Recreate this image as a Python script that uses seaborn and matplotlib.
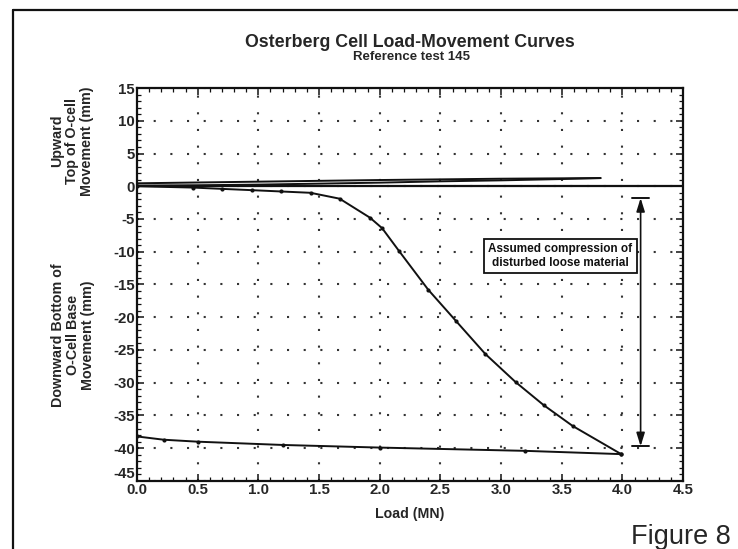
import matplotlib
matplotlib.use("Agg")
import matplotlib.pyplot as plt
import seaborn as sns
import pandas as pd
import numpy as np
from matplotlib.lines import Line2D
from matplotlib.ticker import MultipleLocator

# ---- data ----
up_load_x = [0.0, 0.5, 1.0, 1.5, 2.0, 2.5, 3.0, 3.5, 3.82]
up_load_y = [0.1, 0.15, 0.25, 0.4, 0.55, 0.75, 0.9, 1.1, 1.25]
up_unload_x = [3.82, 3.0, 2.0, 1.0, 0.0]
up_unload_y = [1.25, 1.15, 0.95, 0.7, 0.45]

dn_load_x = [0.0, 0.46, 0.7, 0.95, 1.19, 1.43, 1.67, 1.92, 2.02, 2.16, 2.4,
             2.63, 2.87, 3.12, 3.35, 3.59, 3.99]
dn_load_y = [0.0, -0.2, -0.4, -0.6, -0.8, -1.0, -1.9, -4.8, -6.4, -9.9, -15.8,
             -20.6, -25.6, -29.9, -33.4, -36.6, -40.9]
dn_unload_x = [3.99, 3.2, 2.0, 1.2, 0.5, 0.22, 0.0]
dn_unload_y = [-40.9, -40.4, -39.9, -39.5, -39.0, -38.7, -38.2]

x_ticks = [0.0, 0.5, 1.0, 1.5, 2.0, 2.5, 3.0, 3.5, 4.0, 4.5]
y_ticks = [-45, -40, -35, -30, -25, -20, -15, -10, -5, 0, 5, 10, 15]

arrow_x = 4.15
arrow_top = -1.8
arrow_bottom = -39.7

title = "Osterberg Cell Load-Movement Curves"
subtitle = "Reference test 145"
note = "Assumed compression of\ndisturbed loose material"

# ---- style ----
sns.set_style("ticks")
plt.rcParams['font.family'] = ['Liberation Sans', 'DejaVu Sans']

fig = plt.figure(figsize=(7.38, 5.49), dpi=100)
ax = fig.add_axes([0.1856, 0.1239, 0.74, 0.7158])

def series(x, y, name):
    return pd.DataFrame({"load": x, "move": y, "s": name})

ink = "#111111"
sns.lineplot(data=series(up_load_x, up_load_y, "a"), x="load", y="move",
             sort=False, estimator=None, color=ink, lw=1.4, ax=ax)
sns.lineplot(data=series(up_unload_x, up_unload_y, "b"), x="load", y="move",
             sort=False, estimator=None, color=ink, lw=1.4, ax=ax)
sns.lineplot(data=series(dn_load_x, dn_load_y, "c"), x="load", y="move",
             sort=False, estimator=None, color=ink, lw=1.4, marker="o",
             markersize=3, markeredgewidth=0, ax=ax)
sns.lineplot(data=series(dn_unload_x, dn_unload_y, "d"), x="load", y="move",
             sort=False, estimator=None, color=ink, lw=1.4, marker="o",
             markersize=3, markeredgewidth=0, ax=ax)

ax.axhline(0, color=ink, lw=1.6, zorder=3)

# arrow with caps
ax.annotate("", xy=(arrow_x, arrow_top), xytext=(arrow_x, arrow_bottom),
            arrowprops=dict(arrowstyle="<|-|>,head_length=0.8,head_width=0.25",
                            color=ink, lw=1.2, shrinkA=0, shrinkB=0))
for yv in (arrow_top, arrow_bottom):
    ax.plot([arrow_x - 0.07, arrow_x + 0.07], [yv, yv], color=ink, lw=1.4)

ax.text(3.49, -10.7, note, fontsize=8.5, fontweight="bold", ha="center",
        va="center", linespacing=1.2, color=ink,
        bbox=dict(boxstyle="square,pad=0.35", fc="white", ec=ink, lw=1.3))

ax.set_xlim(0, 4.5)
ax.set_ylim(-45, 15)
ax.set_xticks(x_ticks)
ax.set_xticklabels([f"{v:.1f}" for v in x_ticks])
ax.set_yticks(y_ticks)
ax.set_yticklabels([str(v) for v in y_ticks])
ax.xaxis.set_minor_locator(MultipleLocator(0.1))
ax.yaxis.set_minor_locator(MultipleLocator(1))
ax.tick_params(which="both", direction="in", top=True, right=True, color=ink)
ax.tick_params(which="major", length=5, width=1.1, labelsize=10.8, pad=1.5)
ax.tick_params(which="minor", length=3, width=0.9)
for lab in ax.get_xticklabels() + ax.get_yticklabels():
    lab.set_fontweight("bold")
# the lowest y label sits just above the corner, as in the reference
ax.get_yticklabels()[0].set_va("bottom")
for sp in ax.spines.values():
    sp.set_linewidth(1.6)
    sp.set_color(ink)
    sp.set_visible(True)

ax.grid(True, which="major", linestyle=(0, (1, 7)), linewidth=1.5, color="0.2")
ax.set_xlabel("Load (MN)", fontsize=10.2, fontweight="bold", labelpad=7)
ax.set_ylabel("")

# titles
fig.text(0.556, 0.923, title, fontsize=12.8, fontweight="bold", ha="center", va="center")
fig.text(0.558, 0.896, subtitle, fontsize=9.5, fontweight="bold", ha="center", va="center")

# y labels
fig.text(0.098, 0.743, "Upward\nTop of O-cell\nMovement (mm)", rotation=90,
         fontsize=10.3, fontweight="bold", ha="center", va="center",
         multialignment="center", linespacing=1.1)
fig.text(0.099, 0.39, "Downward Bottom of\nO-Cell Base\nMovement (mm)", rotation=90,
         fontsize=10.3, fontweight="bold", ha="center", va="center",
         multialignment="center", linespacing=1.1)

fig.text(0.923, 0.022, "Figure 8", fontsize=19.5, ha="center", va="center")

# page frame
fig.add_artist(Line2D([13/738, 13/738], [0, 1 - 10/549], color=ink, lw=1.6,
                      transform=fig.transFigure))
fig.add_artist(Line2D([13/738, 1], [1 - 10/549, 1 - 10/549], color=ink, lw=1.6,
                      transform=fig.transFigure))

fig.savefig("out.png", dpi=100)
